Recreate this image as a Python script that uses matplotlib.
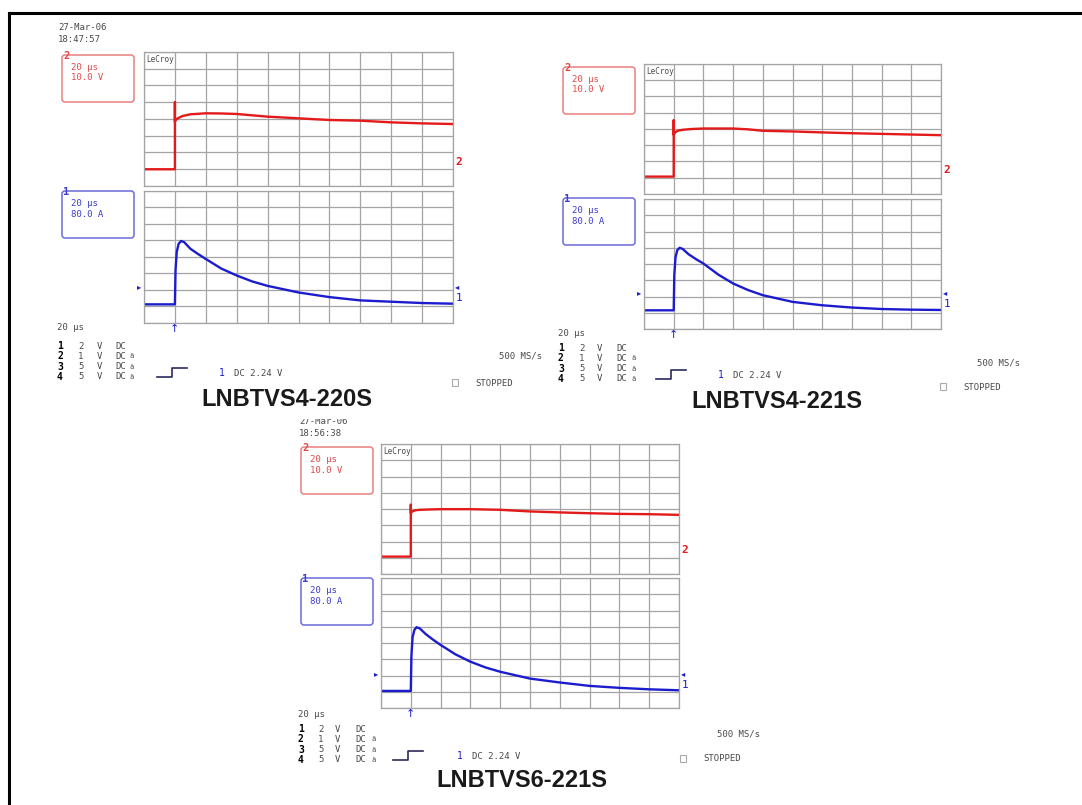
import matplotlib
matplotlib.use("Agg")
import matplotlib.pyplot as plt
from matplotlib.patches import FancyBboxPatch, Rectangle
from matplotlib.transforms import blended_transform_factory

W, H = 1082, 805

# device names printed under each scope shot
devices = ["LNBTVS4-220S", "LNBTVS4-221S", "LNBTVS6-221S"]
dates = [("27-Mar-06", "18:47:57"), None, ("27-Mar-06", "18:56:38")]

# scope settings shown on screen
volt_box = ["20 µs", "10.0 V"]
amp_box = ["20 µs", "80.0 A"]
channels = ["1", "2", "3", "4"]
chan_volts = ["2", "1", "5", "5"]
trig_text = "DC 2.24 V"
rate_text = "500 MS/s"

# traces: x in time divisions (20 µs/div), y in screen divisions (0 = bottom)
s1_v_t = [0, 1.0, 1.0, 1.0, 1.03, 1.1, 1.25, 1.5, 2.0, 2.5, 3.0, 3.5, 4.0, 5.0, 6.0, 7.0, 8.0, 9.0, 10.0]
s1_v_y = [1.0, 1.0, 5.0, 3.84, 3.95, 4.05, 4.18, 4.28, 4.34, 4.33, 4.30, 4.22, 4.14, 4.04, 3.94, 3.90, 3.80, 3.74, 3.70]
s1_i_t = [0, 1.0, 1.02, 1.06, 1.12, 1.2, 1.3, 1.5, 1.75, 2.0, 2.5, 3.0, 3.5, 4.0, 5.0, 6.0, 7.0, 8.0, 9.0, 10.0]
s1_i_y = [1.13, 1.13, 3.2, 4.3, 4.8, 4.97, 4.9, 4.5, 4.18, 3.88, 3.30, 2.88, 2.52, 2.25, 1.85, 1.57, 1.37, 1.29, 1.21, 1.17]

s2_v_t = [0, 1.0, 1.0, 1.0, 1.05, 1.15, 1.3, 1.6, 2.0, 2.5, 3.0, 3.5, 4.0, 5.0, 6.0, 7.0, 8.0, 9.0, 10.0]
s2_v_y = [1.07, 1.07, 4.53, 3.64, 3.80, 3.90, 3.95, 4.0, 4.03, 4.03, 4.03, 3.98, 3.89, 3.85, 3.79, 3.74, 3.70, 3.66, 3.62]
s2_i_t = [0, 1.0, 1.02, 1.06, 1.12, 1.2, 1.3, 1.5, 1.75, 2.0, 2.5, 3.0, 3.5, 4.0, 5.0, 6.0, 7.0, 8.0, 9.0, 10.0]
s2_i_y = [1.15, 1.15, 3.3, 4.4, 4.85, 5.0, 4.93, 4.6, 4.3, 4.03, 3.35, 2.80, 2.40, 2.08, 1.67, 1.46, 1.32, 1.23, 1.19, 1.17]

s3_v_t = [0, 1.0, 1.0, 1.0, 1.05, 1.15, 1.3, 1.6, 2.0, 3.0, 4.0, 5.0, 6.0, 7.0, 8.0, 9.0, 10.0]
s3_v_y = [1.07, 1.07, 4.26, 3.74, 3.85, 3.92, 3.95, 3.97, 3.99, 3.99, 3.95, 3.85, 3.79, 3.74, 3.70, 3.68, 3.64]
s3_i_t = [0, 1.0, 1.02, 1.06, 1.12, 1.19, 1.3, 1.5, 1.75, 2.0, 2.5, 3.0, 3.5, 4.0, 5.0, 6.0, 7.0, 8.0, 9.0, 10.0]
s3_i_y = [1.05, 1.05, 3.2, 4.35, 4.8, 4.97, 4.9, 4.55, 4.2, 3.88, 3.30, 2.85, 2.50, 2.23, 1.81, 1.57, 1.36, 1.24, 1.15, 1.09]

volt_traces = [(s1_v_t, s1_v_y), (s2_v_t, s2_v_y), (s3_v_t, s3_v_y)]
amp_traces = [(s1_i_t, s1_i_y), (s2_i_t, s2_i_y), (s3_i_t, s3_i_y)]
ch1_marker = [2.2, 2.24, 2.12]   # channel 1 offset arrows
ch2_marker = 1.45

# screen layout in pixels
layout = [
    dict(gx=(144, 453), top=(52, 186), bot=(191, 323), box_x=62, rbox=55, bbox=191,
         date=(58, 27), us=(57, 327), rows=346, cols=(57, 78, 97, 115, 130), step=157,
         trig=219, rate=(542, 356), stop=(455, 383), label=(287, 399)),
    dict(gx=(644, 941), top=(64, 194), bot=(199, 329), box_x=563, rbox=67, bbox=198,
         date=None, us=(558, 333), rows=348, cols=(558, 579, 597, 616, 631), step=656,
         trig=718, rate=(1020, 363), stop=(943, 387), label=(777, 401)),
    dict(gx=(381, 679), top=(444, 574), bot=(578, 708), box_x=301, rbox=447, bbox=578,
         date=(299, 421), us=(298, 714), rows=729, cols=(298, 318, 335, 355, 371), step=393,
         trig=457, rate=(760, 734), stop=(683, 758), label=(522, 780)),
]

RED = "#e31a1a"
BLUE = "#1c1ccf"
GRID = "#a4a4a4"
TXT = "#4a4a4a"
MONO = "DejaVu Sans Mono"

fig = plt.figure(figsize=(W / 100, H / 100), dpi=100)
over = fig.add_axes([0, 0, 1, 1], zorder=5)
over.set_xlim(0, W)
over.set_ylim(H, 0)
over.axis("off")
over.patch.set_alpha(0)

# page frame
over.plot([9, 9], [13, H], color="black", lw=2.2, solid_capstyle="projecting")
over.plot([9, W], [13, 13], color="black", lw=2.2, solid_capstyle="projecting")


def panel(gx, gy):
    ax = fig.add_axes([gx[0] / W, 1 - gy[1] / H, (gx[1] - gx[0]) / W, (gy[1] - gy[0]) / H])
    ax.set_xlim(0, 10)
    ax.set_ylim(0, 8)
    ax.set_xticks(range(11))
    ax.set_yticks(range(9))
    ax.tick_params(length=0, labelbottom=False, labelleft=False)
    ax.grid(True, color=GRID, lw=0.9)
    for s in ax.spines.values():
        s.set_color(GRID)
        s.set_linewidth(0.9)
    return ax


def setting_box(x, y, lines, col, edge, num):
    over.add_patch(FancyBboxPatch((x, y), 72, 47, boxstyle="round,pad=0,rounding_size=3",
                                  fc="none", ec=edge, lw=1.1))
    over.text(x + 1, y + 1, num, color=col, fontsize=7.5, fontweight="bold",
              family=MONO, ha="left", va="center")
    for k, s in enumerate(lines):
        over.text(x + 9, y + 12 + k * 11, s, color=col, fontsize=6.5, family=MONO,
                  ha="left", va="center")


for n, L in enumerate(layout):
    top = panel(L["gx"], L["top"])
    bot = panel(L["gx"], L["bot"])

    top.text(0.06, 7.55, "LeCroy", fontsize=5.5, color=TXT, family=MONO, va="center")

    vt, vy = volt_traces[n]
    top.plot(vt, vy, color=RED, lw=1.7, solid_joinstyle="round")
    it, iy = amp_traces[n]
    bot.plot(it, iy, color=BLUE, lw=1.7, solid_joinstyle="round")

    # channel markers at panel edges
    top.text(10.08, ch2_marker, "2", color=RED, fontsize=8, fontweight="bold",
             family=MONO, ha="left", va="center", clip_on=False)
    bot.text(-0.08, ch1_marker[n], "▸", color=BLUE, fontsize=6, ha="right", va="center", clip_on=False)
    bot.text(10.05, ch1_marker[n], "◂", color=BLUE, fontsize=6, ha="left", va="center", clip_on=False)
    bot.text(10.08, ch1_marker[n] - 0.7, "1", color=BLUE, fontsize=8, family=MONO,
             ha="left", va="center", clip_on=False)
    tr = blended_transform_factory(bot.transData, bot.transAxes)
    bot.text(1.0, -0.01, "↑", color=BLUE, fontsize=8, ha="center", va="top",
             transform=tr, clip_on=False)

    setting_box(L["box_x"], L["rbox"], volt_box, "#e04848", "#e98080", "2")
    setting_box(L["box_x"], L["bbox"], amp_box, "#3c3cd0", "#6a6ad8", "1")

    if dates[n]:
        dx, dy = L["date"]
        over.text(dx, dy, dates[n][0], fontsize=6.5, color=TXT, family=MONO, va="center", zorder=2)
        over.text(dx, dy + 12, dates[n][1], fontsize=6.5, color=TXT, family=MONO, va="center")

    # timebase + channel table
    over.text(L["us"][0], L["us"][1], "20 µs", fontsize=6.5, color=TXT, family=MONO, va="center")
    c = L["cols"]
    for k in range(4):
        y = L["rows"] + k * 10.3
        over.text(c[0], y, channels[k], fontsize=7, color="black", fontweight="bold",
                  family=MONO, va="center")
        over.text(c[1], y, chan_volts[k], fontsize=6.5, color=TXT, family=MONO, va="center")
        over.text(c[2], y, "V", fontsize=6.5, color=TXT, family=MONO, va="center")
        over.text(c[3], y, "DC", fontsize=6.5, color=TXT, family=MONO, va="center")
        if k > 0:
            over.text(c[4], y, "ä", fontsize=5, color=TXT, family=MONO, va="center")

    # trigger icon and level
    sx = L["step"]
    sy = L["rows"] + 31
    over.plot([sx, sx + 15, sx + 15, sx + 30], [sy, sy, sy - 9, sy - 9], color="#2a2a5a", lw=1.2)
    over.text(L["trig"], sy - 4, "1", fontsize=7, color=BLUE, family=MONO, va="center")
    over.text(L["trig"] + 15, sy - 4, trig_text, fontsize=6.5, color=TXT, family=MONO, va="center")

    over.text(L["rate"][0], L["rate"][1], rate_text, fontsize=6.5, color=TXT, family=MONO,
              ha="right", va="center")
    bx, by = L["stop"]
    over.add_patch(Rectangle((bx - 3, by - 3.5), 6, 7, fc="none", ec="#aaaaaa", lw=0.8))
    over.text(bx + 20, by, "STOPPED", fontsize=6.5, color=TXT, family=MONO, va="center")

    over.text(L["label"][0], L["label"][1], devices[n], fontsize=17, fontweight="bold",
              family="Liberation Sans", color="#1a1a1a", ha="center", va="center", zorder=5)

# the third screenshot overlaps the date line of its own header
over.add_patch(Rectangle((290, 411), 80, 8, fc="white", ec="none", zorder=2.5))

fig.savefig("out.png", dpi=100, facecolor="white")
